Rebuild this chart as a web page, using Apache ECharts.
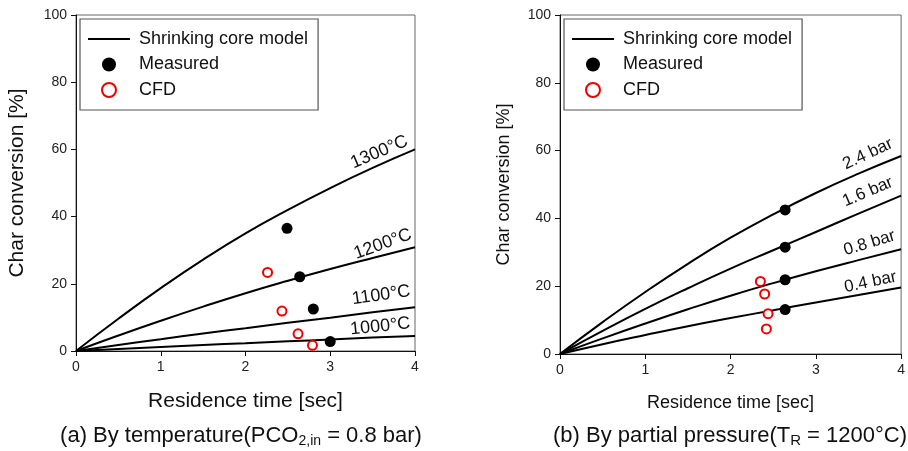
<!DOCTYPE html>
<html>
<head>
<meta charset="utf-8">
<script src="https://cdn.jsdelivr.net/npm/echarts@6/dist/echarts.min.js"></script>
<style>
  html, body { margin: 0; padding: 0; background: #fff; }
  #chart { width: 908px; height: 451px; }
</style>
</head>
<body>
<div id="chart"></div>
<script>
// residence time [sec] for model curves
var time = [0, 0.5, 1, 1.5, 2, 2.5, 3, 3.5, 4];

// (a) by temperature, PCO2,in = 0.8 bar
var tempLabels = ['1300°C', '1200°C', '1100°C', '1000°C'];
var tempCurves = [
  [0, 9.6, 18.7, 27.2, 35, 42, 48.5, 54.5, 60],
  [0, 4.6, 9, 13.2, 17.2, 20.9, 24.4, 27.7, 30.9],
  [0, 1.8, 3.5, 5.2, 6.8, 8.4, 9.9, 11.5, 13],
  [0, 0.6, 1.2, 1.8, 2.3, 2.9, 3.4, 4.0, 4.5]
];
var tempMeasured = [[2.49, 36.5], [2.64, 22.1], [2.8, 12.5], [3.0, 2.8]];
var tempCfd = [[2.26, 23.4], [2.43, 11.9], [2.62, 5.1], [2.79, 1.7]];

// (b) by partial pressure, TR = 1200°C
var presLabels = ['2.4 bar', '1.6 bar', '0.8 bar', '0.4 bar'];
var presCurves = [
  [0, 9.4, 18.3, 26.6, 34.3, 41.2, 47.5, 53.2, 58.4],
  [0, 6.8, 13.3, 19.4, 25.2, 30.6, 36.0, 41.4, 46.7],
  [0, 4.6, 9, 13.2, 17.2, 20.9, 24.4, 27.7, 30.9],
  [0, 2.9, 5.6, 8.2, 10.6, 12.9, 15.2, 17.4, 19.6]
];
var presMeasured = [[2.64, 42.5], [2.64, 31.5], [2.64, 21.9], [2.64, 13.1]];
var presCfd = [[2.35, 21.4], [2.4, 17.7], [2.44, 11.9], [2.42, 7.4]];

var FONT = '"Liberation Sans", Arial, sans-serif';

// where the curve names sit (data coords) and their tilt
var tempLabelAt = [[3.58, 59.2, 23], [3.62, 31.8, 20], [3.6, 16.6, 8], [3.59, 7.3, 6]];
var presLabelAt = [[3.61, 59.0, 25], [3.61, 47.8, 23], [3.63, 32.7, 17], [3.64, 21.2, 12]];

function curveSeries(curves, names, at, idx, fs) {
  return curves.map(function (c, i) {
    return {
      name: 'Shrinking core model',
      type: 'line',
      xAxisIndex: idx, yAxisIndex: idx,
      symbol: 'none',
      smooth: true,
      lineStyle: { color: '#000', width: 2 },
      itemStyle: { color: '#000' },
      data: c.map(function (v, j) { return [time[j], v]; }),
      z: 2,
      markPoint: {
        symbol: 'circle', symbolSize: 0, silent: true,
        data: [{
          coord: [at[i][0], at[i][1]],
          value: names[i],
          label: {
            show: true, position: 'inside', formatter: names[i],
            rotate: at[i][2], color: '#111', fontSize: fs, fontFamily: FONT
          }
        }]
      }
    };
  });
}

function pointSeries(measured, cfd, idx) {
  return [{
    name: 'Measured', type: 'scatter', xAxisIndex: idx, yAxisIndex: idx,
    symbol: 'circle', symbolSize: 11,
    itemStyle: { color: '#000', opacity: 1 }, z: 4, data: measured
  }, {
    name: 'CFD', type: 'scatter', xAxisIndex: idx, yAxisIndex: idx,
    symbol: 'circle', symbolSize: 9,
    itemStyle: { color: '#fff', borderColor: '#ee0000', borderWidth: 2, opacity: 1 }, z: 5, data: cfd
  }];
}

function xAxis(idx, fs, gap) {
  return {
    type: 'value', gridIndex: idx, min: 0, max: 4, interval: 1,
    name: 'Residence time [sec]', nameLocation: 'middle', nameGap: gap,
    nameTextStyle: { color: '#111', fontSize: fs, fontFamily: FONT },
    axisLine: { show: true, onZero: false, lineStyle: { color: '#111', width: 1 } },
    axisTick: { show: true, inside: false, length: 5, lineStyle: { color: '#111' } },
    axisLabel: { color: '#222', fontSize: 14, fontFamily: FONT, margin: 9 },
    splitLine: { show: false }
  };
}

function yAxis(idx, fs, gap) {
  return {
    type: 'value', gridIndex: idx, min: 0, max: 100, interval: 20,
    name: 'Char conversion [%]', nameLocation: 'middle', nameGap: gap,
    nameTextStyle: { color: '#111', fontSize: fs, fontFamily: FONT },
    axisLine: { show: true, onZero: false, lineStyle: { color: '#111', width: 1 } },
    axisTick: { show: true, inside: false, length: 5, lineStyle: { color: '#111' } },
    axisLabel: { color: '#222', fontSize: 14, fontFamily: FONT, margin: 9 },
    splitLine: { show: false }
  };
}

function legend(left, top) {
  return {
    left: left, top: top, orient: 'vertical',
    data: [
      { name: 'Shrinking core model', icon: 'path://M0,0 L42,0 L42,2 L0,2 Z', itemStyle: { color: '#000' } },
      { name: 'Measured' },
      { name: 'CFD' }
    ],
    itemWidth: 42, itemHeight: 14, itemGap: 7.5,
    padding: [11, 10, 11, 8],
    borderColor: '#555', borderWidth: 1.2, backgroundColor: '#fff',
    textStyle: { color: '#111', fontSize: 18, fontFamily: FONT, padding: [0, 0, 0, 4] },
    selectedMode: false
  };
}

var chart = echarts.init(document.getElementById('chart'), null, { renderer: 'canvas' });

chart.setOption({
  animation: false,
  backgroundColor: '#fff',
  grid: [
    { left: 76, top: 15, width: 339, height: 336, show: true, borderColor: '#666', borderWidth: 1 },
    { left: 560, top: 15, width: 342, height: 339, show: true, borderColor: '#666', borderWidth: 1 }
  ],
  xAxis: [xAxis(0, 21, 40), xAxis(1, 18, 40)],
  yAxis: [yAxis(0, 21, 48), yAxis(1, 18, 47)],
  legend: [legend(80, 19), legend(564, 19)],
  series: []
    .concat(curveSeries(tempCurves, tempLabels, tempLabelAt, 0, 18))
    .concat(pointSeries(tempMeasured, tempCfd, 0))
    .concat(curveSeries(presCurves, presLabels, presLabelAt, 1, 17))
    .concat(pointSeries(presMeasured, presCfd, 1)),
  graphic: [
    {
      type: 'text', x: 241, y: 436,
      style: {
        text: '(a) By temperature(PCO{sub|2,in} = 0.8 bar)',
        fontSize: 22, fontFamily: FONT, fill: '#111',
        align: 'center', verticalAlign: 'middle',
        rich: { sub: { fontSize: 14, fontFamily: FONT, fill: '#111', padding: [10, 0, 0, 0] } }
      }
    },
    {
      type: 'text', x: 730, y: 436,
      style: {
        text: '(b) By partial pressure(T{sub|R} = 1200°C)',
        fontSize: 22, fontFamily: FONT, fill: '#111',
        align: 'center', verticalAlign: 'middle',
        rich: { sub: { fontSize: 15, fontFamily: FONT, fill: '#111', padding: [10, 0, 0, 0] } }
      }
    }
  ]
});
</script>
</body>
</html>
